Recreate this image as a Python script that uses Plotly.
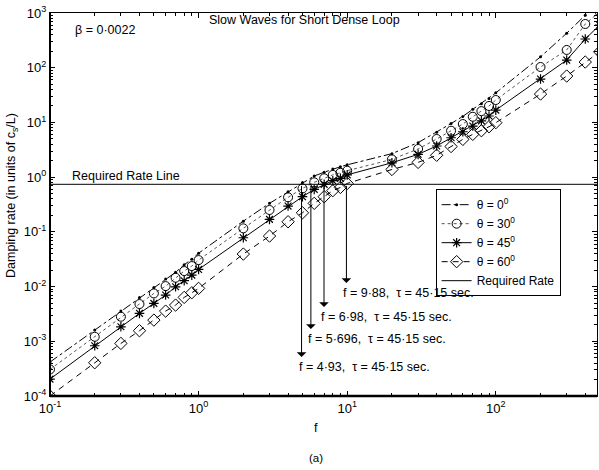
import numpy as np
import plotly.graph_objects as go

# ---------------- data ----------------
f = [0.1, 0.2, 0.3, 0.4, 0.5, 0.6, 0.7, 0.8, 0.9, 1,
     2, 3, 4, 5, 6, 7, 8, 9, 10,
     20, 30, 40, 50, 60, 70, 80, 90, 100,
     200, 300, 400, 500]

theta0 = [4.17e-4, 1.60e-3, 3.56e-3, 6.34e-3, 9.66e-3, 1.37e-2, 1.82e-2, 2.51e-2, 3.16e-2, 4.07e-2,
          0.157, 0.332, 0.541, 0.794, 1.05, 1.23, 1.41, 1.55, 1.68,
          2.69, 4.27, 6.61, 9.55, 12.9, 17.4, 21.9, 27.5, 34.7,
          158, 427, 912, 1585]

theta30 = [3.06e-4, 1.21e-3, 2.81e-3, 4.79e-3, 7.50e-3, 1.02e-2, 1.45e-2, 1.92e-2, 2.37e-2, 3.05e-2,
           0.116, 0.251, 0.428, 0.622, 0.804, 0.951, 1.10, 1.20, 1.31,
           2.11, 3.27, 4.98, 7.05, 9.35, 12.7, 16.1, 20.0, 25.7,
           103, 211, 630, 1050]

theta45 = [2.04e-4, 8.28e-4, 1.84e-3, 3.24e-3, 4.93e-3, 7.00e-3, 9.91e-3, 1.28e-2, 1.62e-2, 2.06e-2,
           0.078, 0.169, 0.296, 0.439, 0.598, 0.738, 0.861, 0.951, 1.10,
           1.83, 2.61, 3.71, 5.25, 6.76, 8.59, 10.7, 13.1, 16.8,
           62.1, 138, 335, 603]

theta60 = [1.0e-4, 4.05e-4, 9.14e-4, 1.56e-3, 2.44e-3, 3.56e-3, 4.59e-3, 6.34e-3, 7.71e-3, 9.27e-3,
           0.0393, 0.0838, 0.153, 0.223, 0.332, 0.439, 0.565, 0.649, 0.767,
           1.38, 1.86, 2.51, 3.63, 4.90, 6.05, 7.05, 8.34, 9.89,
           33.0, 70.5, 127, 195]

required_rate = 0.74
rate_line_f = [0.1, 1000]

crossing_f = [9.88, 6.98, 5.696, 4.93]
crossing_labels = ["f = 9·88,\u00a0\u00a0τ = 45·15 sec.",
                   "f = 6·98,\u00a0\u00a0τ = 45·15 sec.",
                   "f = 5·696,\u00a0\u00a0τ = 45·15 sec.",
                   "f = 4·93,\u00a0\u00a0τ = 45·15 sec."]
arrow_tip = [1.16e-2, 4.22e-3, 1.67e-3, 5.14e-4]

x_tickvals = [0.1, 1, 10, 100]
x_ticktext = ["10<sup>-1</sup>", "10<sup>0</sup>", "10<sup>1</sup>", "10<sup>2</sup>"]
y_tickvals = [1e-4, 1e-3, 1e-2, 1e-1, 1, 10, 100, 1000]
y_ticktext = ["10<sup>-4</sup>", "10<sup>-3</sup>", "10<sup>-2</sup>", "10<sup>-1</sup>",
              "10<sup>0</sup>", "10<sup>1</sup>", "10<sup>2</sup>", "10<sup>3</sup>"]

FONT = "Liberation Sans, Arial, Helvetica, sans-serif"
TXT = 12.5

fig = go.Figure()

fig.add_trace(go.Scatter(x=f, y=theta0, name="θ = 0<sup>0</sup>", mode="lines+markers",
                         line=dict(color="black", width=1, dash="dashdot"),
                         marker=dict(symbol="circle", size=3, color="black")))
fig.add_trace(go.Scatter(x=f, y=theta30, name="θ = 30<sup>0</sup>", mode="lines+markers",
                         line=dict(color="#555555", width=1, dash="dot"),
                         marker=dict(symbol="circle-open", size=9, color="black",
                                     line=dict(width=1, color="black"))))
fig.add_trace(go.Scatter(x=f, y=theta45, name="θ = 45<sup>0</sup>", mode="lines+markers",
                         line=dict(color="black", width=1),
                         marker=dict(symbol="asterisk-open", size=8, color="black",
                                     line=dict(width=1.2, color="black"))))
fig.add_trace(go.Scatter(x=f, y=theta60, name="θ = 60<sup>0</sup>", mode="lines+markers",
                         line=dict(color="black", width=1, dash="6px,5px"),
                         marker=dict(symbol="diamond-open", size=9.5, color="black",
                                     line=dict(width=1, color="black"))))
fig.add_trace(go.Scatter(x=rate_line_f, y=[required_rate, required_rate], name="Required Rate",
                         mode="lines", line=dict(color="black", width=1)))

annotations = []
for fc, lab, tip in zip(crossing_f, crossing_labels, arrow_tip):
    annotations.append(dict(x=np.log10(fc), y=np.log10(tip), ax=np.log10(fc), ay=np.log10(required_rate),
                            xref="x", yref="y", axref="x", ayref="y", text="", showarrow=True,
                            arrowhead=1, arrowsize=1.6, arrowwidth=1, arrowcolor="black", standoff=0))
    annotations.append(dict(x=np.log10(fc), y=np.log10(tip), xref="x", yref="y", text=lab,
                            showarrow=False, xanchor="left", yanchor="middle", xshift=-5, yshift=-10,
                            font=dict(family=FONT, size=TXT, color="black")))

annotations += [
    dict(x=0.466, y=0.982, xref="paper", yref="paper", text="Slow Waves for Short Dense Loop",
         showarrow=False, xanchor="center", yanchor="middle", font=dict(family=FONT, size=TXT, color="black")),
    dict(x=0.042, y=0.956, xref="paper", yref="paper", text="β = 0·0022",
         showarrow=False, xanchor="left", yanchor="middle", font=dict(family=FONT, size=TXT, color="black")),
    dict(x=0.0366, y=0.574, xref="paper", yref="paper", text="Required Rate Line",
         showarrow=False, xanchor="left", yanchor="middle", font=dict(family=FONT, size=TXT, color="black")),
    dict(x=0.487, y=-0.0836, xref="paper", yref="paper", text="f",
         showarrow=False, xanchor="center", yanchor="middle", font=dict(family=FONT, size=TXT, color="black")),
    dict(x=0.487, y=-0.162, xref="paper", yref="paper", text="(a)",
         showarrow=False, xanchor="center", yanchor="middle", font=dict(family=FONT, size=11.5, color="black")),
    dict(x=-0.0695, y=0.525, xref="paper", yref="paper", text="Damping rate (in units of c<sub>s</sub>/L)",
         showarrow=False, xanchor="center", yanchor="middle", textangle=-90,
         font=dict(family=FONT, size=TXT, color="black")),
]

x_minor = [m * 10.0 ** d for d in range(-1, 3) for m in range(2, 10)]
y_minor = [m * 10.0 ** d for d in range(-4, 3) for m in range(2, 10)]

axis_common = dict(showline=True, linecolor="black", linewidth=1, mirror="allticks",
                   ticks="inside", ticklen=5, tickcolor="black", tickwidth=1,
                   showgrid=False, zeroline=False,
                   tickfont=dict(family=FONT, size=13, color="black"))

fig.update_layout(
    width=599, height=470,
    margin=dict(l=50, r=2, t=13, b=74),
    paper_bgcolor="white", plot_bgcolor="white",
    font=dict(family=FONT, size=12, color="black"),
    xaxis=dict(type="log", range=[-1, 2.681], tickmode="array", tickvals=x_tickvals, ticktext=x_ticktext,
               minor=dict(tickvals=x_minor, ticks="inside", ticklen=3, tickcolor="black", showgrid=False),
               **axis_common),
    yaxis=dict(type="log", range=[-4, 3], tickmode="array", tickvals=y_tickvals, ticktext=y_ticktext,
               minor=dict(tickvals=y_minor, ticks="inside", ticklen=3, tickcolor="black", showgrid=False),
               **axis_common),
    legend=dict(x=0.705, y=0.54, xanchor="left", yanchor="top", bgcolor="white",
                bordercolor="black", borderwidth=1, font=dict(family=FONT, size=12, color="black"),
                tracegroupgap=0),
    showlegend=True,
    annotations=annotations,
    shapes=[
        dict(type="line", xref="paper", yref="paper", x0=0, x1=1, y0=0, y1=0,
             line=dict(color="black", width=2.5)),
        dict(type="line", xref="paper", yref="paper", x0=0, x1=0, y0=0, y1=1,
             line=dict(color="black", width=2)),
    ],
)

fig.write_html("out.html")
